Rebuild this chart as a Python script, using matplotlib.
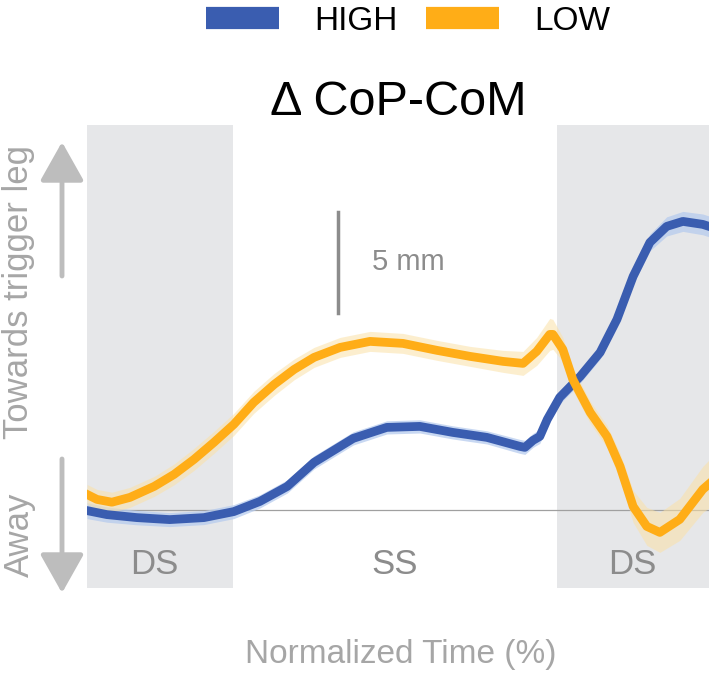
import matplotlib.pyplot as plt
from matplotlib.lines import Line2D
import numpy as np

plt.rcParams['font.family'] = ['Liberation Sans', 'DejaVu Sans']

# time (% of step) and CoP-CoM difference (mm)
t_high = [0, 3.2, 8.0, 13.3, 18.8, 23.6, 27.8, 32.2, 36.5, 38.6, 42.8, 48.2, 53.5, 58.8,
          64.3, 69.6, 70.4, 71.7, 72.8, 74.0, 76.0, 79.3, 82.5, 85.2, 87.8, 90.5, 93.2,
          95.8, 99.0, 100]
high = [-0.03, -0.23, -0.38, -0.48, -0.38, -0.08, 0.43, 1.18, 2.38, 2.78, 3.58, 4.13, 4.18, 3.88,
        3.63, 3.18, 3.13, 3.48, 3.68, 4.53, 5.63, 6.68, 7.88, 9.53, 11.68, 13.38, 14.18,
        14.43, 14.28, 14.18]
high_sd = [0.4, 0.38, 0.36, 0.35, 0.35, 0.35, 0.33, 0.33, 0.33, 0.33, 0.33, 0.33, 0.33, 0.33,
           0.33, 0.35, 0.35, 0.35, 0.35, 0.33, 0.33, 0.33, 0.33, 0.35, 0.38, 0.42, 0.48,
           0.5, 0.52, 0.52]

t_low = [0, 1.6, 4.0, 6.9, 10.8, 14.0, 17.2, 20.4, 23.6, 26.8, 30.1, 33.3, 36.5, 40.7, 45.5,
         50.8, 56.3, 61.6, 66.9, 70.1, 72.3, 74.4, 74.9, 76.5, 78.1, 80.9, 83.6, 85.7, 87.8,
         90.0, 92.1, 95.3, 99.0, 100]
low = [0.78, 0.53, 0.39, 0.63, 1.18, 1.78, 2.53, 3.38, 4.28, 5.38, 6.28, 7.03, 7.63, 8.13, 8.43,
       8.33, 7.98, 7.68, 7.43, 7.33, 7.93, 8.78, 8.78, 8.03, 6.53, 4.88, 3.68, 2.18, 0.18,
       -0.82, -1.12, -0.47, 1.03, 1.3]
low_sd = [0.5, 0.5, 0.5, 0.5, 0.5, 0.52, 0.55, 0.55, 0.55, 0.55, 0.55, 0.52, 0.5, 0.5, 0.5,
          0.5, 0.5, 0.5, 0.55, 0.6, 0.7, 0.8, 0.75, 0.6, 0.55, 0.55, 0.55, 0.65, 0.8,
          0.95, 1.0, 1.05, 1.15, 1.2]

ds1_end = 23.5
ds2_start = 75.6

blue = '#3a5db0'
orange = '#ffad17'
grey_txt = '#8c8c8c'

fig = plt.figure(figsize=(7.09, 6.78), dpi=100)
ax = fig.add_axes([87 / 709, 90 / 678, 622 / 709, 463 / 678])
ax.set_xlim(0, 100)
ax.set_ylim(-3.9, 19.25)

ax.axvspan(0, ds1_end, color='#e6e7e9', lw=0, zorder=0)
ax.axvspan(ds2_start, 100, color='#e6e7e9', lw=0, zorder=0)
ax.axhline(0, color='#a0a0a0', lw=0.9, zorder=1)

th, h, hs = np.array(t_high), np.array(high), np.array(high_sd)
tl, l, ls = np.array(t_low), np.array(low), np.array(low_sd)
ax.fill_between(th, h - hs, h + hs, color='#b6cbee', alpha=0.75, lw=0, zorder=2)
ax.fill_between(tl, l - ls, l + ls, color='#fbe1a6', alpha=0.55, lw=0, zorder=2)
ax.plot(th, h, color=blue, lw=6.3, solid_joinstyle='round', zorder=3)
ax.plot(tl, l, color=orange, lw=6.3, solid_joinstyle='round', zorder=4)

# scale bar
ax.plot([40.4, 40.4], [9.85, 14.9], color=grey_txt, lw=2.5)
ax.text(45.8, 12.4, '5 mm', fontsize=21, color=grey_txt, va='center', ha='left')

ax.text(10.9, -2.72, 'DS', fontsize=25, color=grey_txt, ha='center', va='center')
ax.text(49.5, -2.72, 'SS', fontsize=25, color=grey_txt, ha='center', va='center')
ax.text(87.6, -2.72, 'DS', fontsize=25, color=grey_txt, ha='center', va='center')

for s in ax.spines.values():
    s.set_visible(False)
ax.set_xticks([])
ax.set_yticks([])

ax.set_title('\u0394 CoP-CoM', fontsize=35, pad=2)

# direction arrows and labels on the left
H = 678.0
fig.text(19 / 709, 1 - 292 / H, 'Towards trigger leg', rotation=90, fontsize=25,
         color='#a6a6a6', ha='center', va='center')
fig.text(19 / 709, 1 - 535 / H, 'Away', rotation=90, fontsize=25,
         color='#a6a6a6', ha='center', va='center')
arrow_kw = dict(arrowstyle='-|>,head_length=2.4,head_width=1.35', color='#bdbdbd', lw=3.5,
                shrinkA=0, shrinkB=0)
ax.annotate('', xy=(62 / 709, 1 - 142 / H), xytext=(62 / 709, 1 - 276 / H),
            xycoords='figure fraction', textcoords='figure fraction', arrowprops=arrow_kw,
            annotation_clip=False)
ax.annotate('', xy=(62 / 709, 1 - 593 / H), xytext=(62 / 709, 1 - 459 / H),
            xycoords='figure fraction', textcoords='figure fraction', arrowprops=arrow_kw,
            annotation_clip=False)

fig.text(401 / 709, 1 - 655 / H, 'Normalized Time (%)', fontsize=24, color='#a6a6a6',
         ha='center', va='center')

handles = [Line2D([], [], color=blue, lw=16, solid_capstyle='butt'),
           Line2D([], [], color=orange, lw=16, solid_capstyle='butt')]
fig.legend(handles, ['HIGH', 'LOW'], loc='center', bbox_to_anchor=(408 / 709, 1 - 21 / H),
           ncol=2, frameon=False, fontsize=24, handlelength=2.2, handletextpad=1.05,
           columnspacing=0.85)

fig.savefig('out.png', dpi=100)
